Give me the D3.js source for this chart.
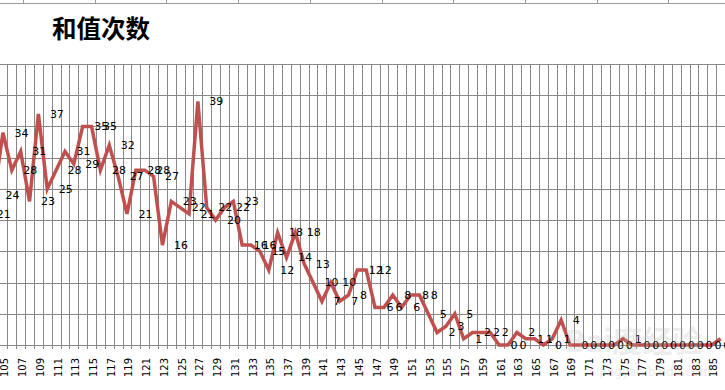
<!DOCTYPE html>
<html>
<head>
<meta charset="UTF-8">
<script src="https://d3js.org/d3.v7.min.js"></script>
<style>
    body { margin: 0; background: #fff; }
    svg { display: block; }
    .grid line { stroke: #878787; stroke-width: 1px; shape-rendering: crispEdges; }
    .tick-label { font-family: "DejaVu Sans", sans-serif; font-size: 10px; fill: #000; }
    .data-label { font-family: "DejaVu Sans", sans-serif; font-size: 11px; fill: #000; }
</style>
</head>
<body>
<div id="chart"></div>
<script>
// categories 103..186 (和值)
const categories = d3.range(103, 187);
// 次数
const counts = [
    21, 24, 34, 28, 31, 23, 37, 25, 28, 31,
    29, 35, 35, 28, 32, 27, 21, 28, 28, 27,
    16, 23, 22, 21, 39, 22, 20, 22, 23, 16,
    16, 15, 12, 18, 14, 18, 13, 10, 7, 10,
    7, 8, 12, 12, 6, 6, 8, 6, 8, 8,
    5, 2, 3, 5, 1, 2, 2, 2, 0, 0,
    2, 1, 1, 0, 1, 4, 0, 0, 0, 0,
    0, 0, 1, 0, 0, 0, 0, 0, 0, 0,
    0, 0, 0, 1
];
const tickCats = categories.filter(c => c >= 105 && c % 2 === 1);
const yTicks = [0, 5, 10, 15, 20, 25, 30, 35, 40, 45];
const title = "和值次数";
// stray dash drawn on the sheet
const marks = [{ from: 117.1, to: 118.3, value: 22.4 }];

const width = 725, height = 390;
const svg = d3.select("#chart").append("svg")
    .attr("width", width)
    .attr("height", height);

// spreadsheet cell borders at the very top
const cellEdges = d3.range(23, width, 71.7);
svg.append("line")
    .attr("x1", 0).attr("x2", width)
    .attr("y1", 3.5).attr("y2", 3.5)
    .attr("stroke", "#9a9a9a");
svg.selectAll(".cell").data(cellEdges).join("line")
    .attr("x1", d => Math.round(d) + 0.5).attr("x2", d => Math.round(d) + 0.5)
    .attr("y1", 0).attr("y2", 3.5)
    .attr("stroke", "#9a9a9a");

// title
svg.append("text")
    .attr("x", 52).attr("y", 38)
    .style("font-family", "'Noto Sans CJK SC', sans-serif")
    .style("font-size", "24.5px")
    .style("font-weight", 700)
    .text(title);

// scales
const x = d3.scaleBand()
    .domain(categories)
    .range([-19.2, -19.2 + 8.86 * categories.length])
    .padding(0);
const cx = c => x(c) + x.bandwidth() / 2;
const y = d3.scaleLinear().domain([0, 45]).range([345, 64]);

// gridlines
const grid = svg.append("g").attr("class", "grid");
grid.selectAll(".h").data(yTicks).join("line")
    .attr("x1", 0).attr("x2", width)
    .attr("y1", d => Math.round(y(d)) + 0.5).attr("y2", d => Math.round(y(d)) + 0.5);
const edges = categories.map(c => x(c)).concat([x(categories[categories.length - 1]) + x.bandwidth()]);
grid.selectAll(".v").data(edges).join("line")
    .attr("x1", d => Math.round(d) + 0.5).attr("x2", d => Math.round(d) + 0.5)
    .attr("y1", y(45)).attr("y2", y(0) + 4);

// x tick labels (rotated)
svg.append("g").selectAll("text").data(tickCats).join("text")
    .attr("class", "tick-label")
    .attr("transform", d => `translate(${cx(d) + 2},${y(0) + 13}) rotate(-90)`)
    .attr("text-anchor", "end")
    .attr("dy", "0.35em")
    .text(d => d);

// line
const line = d3.line()
    .x((d, i) => cx(categories[i]))
    .y(d => y(d));
svg.append("path")
    .datum(counts)
    .attr("fill", "none")
    .attr("stroke", "#c0504d")
    .attr("stroke-width", 3.5)
    .attr("stroke-linejoin", "miter")
    .attr("d", line);

// data labels (sit right of each point)
svg.append("g").selectAll("text").data(counts).join("text")
    .attr("class", "data-label")
    .attr("x", (d, i) => cx(categories[i]) + 11.5)
    .attr("y", d => y(d))
    .attr("dy", "0.35em")
    .text(d => d);

svg.selectAll(".mark").data(marks).join("line")
    .attr("x1", d => cx(d.from)).attr("x2", d => cx(d.to))
    .attr("y1", d => y(d.value)).attr("y2", d => y(d.value))
    .attr("stroke", "#000").attr("stroke-width", 3);

// faint watermark
svg.append("text")
    .attr("x", 565).attr("y", 352)
    .style("font-family", "'Noto Sans CJK SC', sans-serif")
    .style("font-size", "30px").style("font-weight", 700)
    .attr("fill", "#bbb").attr("opacity", 0.25)
    .text("Bai度经验");
svg.append("text")
    .attr("x", 600).attr("y", 376)
    .style("font-family", "'DejaVu Sans', sans-serif")
    .style("font-size", "12px")
    .attr("fill", "#bbb").attr("opacity", 0.3)
    .text("jingyan.baidu.com");
</script>
</body>
</html>
